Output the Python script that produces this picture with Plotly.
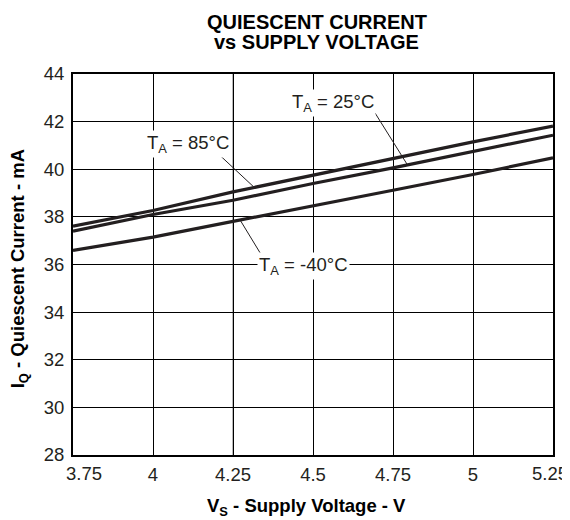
import plotly.graph_objects as go

# Data
voltage = [3.75, 4.0, 4.25, 4.5, 4.75, 5.0, 5.25]
iq_85C = [37.61, 38.27, 39.05, 39.75, 40.45, 41.15, 41.81]
iq_25C = [37.40, 38.10, 38.70, 39.40, 40.06, 40.73, 41.43]
iq_m40C = [36.59, 37.15, 37.81, 38.48, 39.12, 39.78, 40.48]
x_ticks = [3.75, 4, 4.25, 4.5, 4.75, 5, 5.25]
x_tick_text = ["3.75", "4", "4.25", "4.5", "4.75", "5", "5.25"]
y_ticks = [28, 30, 32, 34, 36, 38, 40, 42, 44]

series = [("T<sub>A</sub> = 85°C", iq_85C), ("T<sub>A</sub> = 25°C", iq_25C), ("T<sub>A</sub> = -40°C", iq_m40C)]

LINE = "#231f20"
FONT = "Liberation Sans, Arial, sans-serif"
TICK_SIZE = 18.5

# page body adds an 8px offset; compensate so the drawn chart lands where the reference is
OFF = 8
# plot area in (screen) pixels
L, R, T, B = 72.5 - OFF, 553 - OFF, 73.5 - OFF, 455 - OFF
W, H = 570, 520
def px_x(px):
    return (px - OFF - L) / (R - L)
def px_y(py):
    return (B - (py - OFF)) / (B - T)

fig = go.Figure()

# lighter grid line at 4.25 (as in the reference)
fig.add_shape(type="line", x0=4.25, x1=4.25, y0=0, y1=1, xref="x", yref="paper",
              line=dict(color="#8a8a8a", width=1.2), layer="below")

for name, vals in series:
    fig.add_trace(go.Scatter(x=voltage, y=vals, mode="lines", name=name,
                             line=dict(color=LINE, width=3.2), showlegend=False))

# Labels (text position) and leader lines (from, to)
labels = [
    ("T<sub>A</sub> = 25°C", 4.563, 42.78, (4.694, 42.36), (4.794, 40.21)),
    ("T<sub>A</sub> = 85°C", 4.108, 41.08, (4.195, 40.76), (4.313, 39.28)),
    ("T<sub>A</sub> = -40°C", 4.47, 35.92, (4.336, 36.46), (4.273, 37.85)),
]
for text, lx, ly, p0, p1 in labels:
    fig.add_shape(type="line", x0=p0[0], y0=p0[1], x1=p1[0], y1=p1[1],
                  xref="x", yref="y", line=dict(color=LINE, width=1))
    fig.add_annotation(x=lx, y=ly, text=text, showarrow=False, xref="x", yref="y",
                       bgcolor="white", borderpad=1,
                       font=dict(family=FONT, size=18.5, color="#231f20"))

# end x tick labels are nudged inward in the reference
x_tick_shown = [""] + x_tick_text[1:-1] + [""]
for xv, txt, shift in [(x_ticks[0], x_tick_text[0], 11), (x_ticks[-1], x_tick_text[-1], -3)]:
    fig.add_annotation(x=xv, y=px_y(474), xref="x", yref="paper", text=txt,
                       showarrow=False, xanchor="center", yanchor="middle", xshift=shift,
                       font=dict(family=FONT, size=TICK_SIZE, color="#231f20"))

# Title lines and axis titles (reference pixel positions)
texts = [
    ("<b>QUIESCENT CURRENT</b>", 316.7, 21, 20, 0),
    ("<b>vs SUPPLY VOLTAGE</b>", 316.7, 41.3, 20, 0),
    ("<b>V<sub>S</sub> - Supply Voltage - V</b>", 306, 507, 18.5, 0),
    ("<b>I<sub>Q</sub> - Quiescent Current - mA</b>", 18.5, 269, 18.5, -90),
]
for t, xp, yp, sz, ang in texts:
    fig.add_annotation(x=px_x(xp), y=px_y(yp), xref="paper", yref="paper", text=t,
                       showarrow=False, xanchor="center", yanchor="middle", textangle=ang,
                       font=dict(family=FONT, size=sz, color="black"))

axis_common = dict(showline=True, linecolor="black", linewidth=2, mirror=True,
                   showgrid=True, gridcolor="black", gridwidth=1, ticks="",
                   zeroline=False, automargin=False,
                   tickfont=dict(family=FONT, size=TICK_SIZE, color="#231f20"))

fig.update_layout(
    width=W, height=H,
    margin=dict(l=L, r=W - R, t=T, b=H - B, pad=0),
    paper_bgcolor="white", plot_bgcolor="white",
    xaxis=dict(range=[3.75, 5.25], tickvals=x_ticks, ticktext=x_tick_shown,
               ticklabelstandoff=2, **axis_common),
    yaxis=dict(range=[28, 44], tickvals=y_ticks, ticklabelstandoff=3, **axis_common),
)

fig.write_html("out.html")
